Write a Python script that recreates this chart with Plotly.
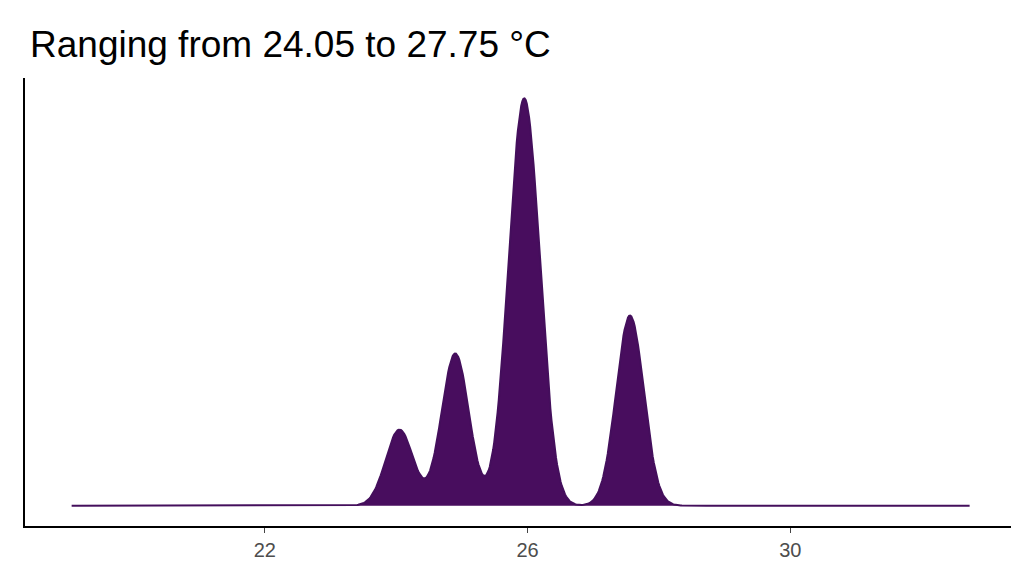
import numpy as np
import plotly.graph_objects as go

# observed temperatures (°C) and how many times each was recorded
temps = [24.05, 24.9, 25.85, 26.05, 27.56]
counts = [2, 4, 6, 6, 5]
bandwidth = 0.21
tick_vals = [22, 26, 30]
title = "Ranging from 24.05 to 27.75 °C"

obs = np.repeat(temps, counts)
xs = np.linspace(19.06, 32.73, 800)
dens = np.exp(-0.5 * ((xs[:, None] - obs[None, :]) / bandwidth) ** 2).sum(1)
dens = dens / (len(obs) * bandwidth * np.sqrt(2 * np.pi))
ymax = dens.max()

fig = go.Figure(go.Scatter(x=xs, y=dens, mode="lines", fill="tozeroy",
                           line=dict(color="#440f5c", width=2),
                           fillcolor="#480d5e", hoverinfo="skip"))
fig.update_layout(
    width=1024, height=576, paper_bgcolor="white", plot_bgcolor="white",
    margin=dict(l=17, r=21, t=70, b=58), showlegend=False,
    title=dict(text=title, x=22/1024, xanchor="left", y=1 - 36/576, yanchor="middle",
               font=dict(family="Liberation Sans, Arial", size=37, color="black")),
    xaxis=dict(range=[18.35, 33.36], tickvals=tick_vals, showgrid=False, zeroline=False,
               showline=True, linecolor="black", linewidth=2, ticks="outside",
               ticklen=5, tickcolor="#444", tickfont=dict(family="Liberation Sans, Arial", size=20, color="#4d4d4d")),
    yaxis=dict(range=[-0.05 * ymax, 1.05 * ymax], showticklabels=False, showgrid=False,
               zeroline=False, showline=True, linecolor="black", linewidth=2, ticks=""),
)
fig.write_html("out.html")
